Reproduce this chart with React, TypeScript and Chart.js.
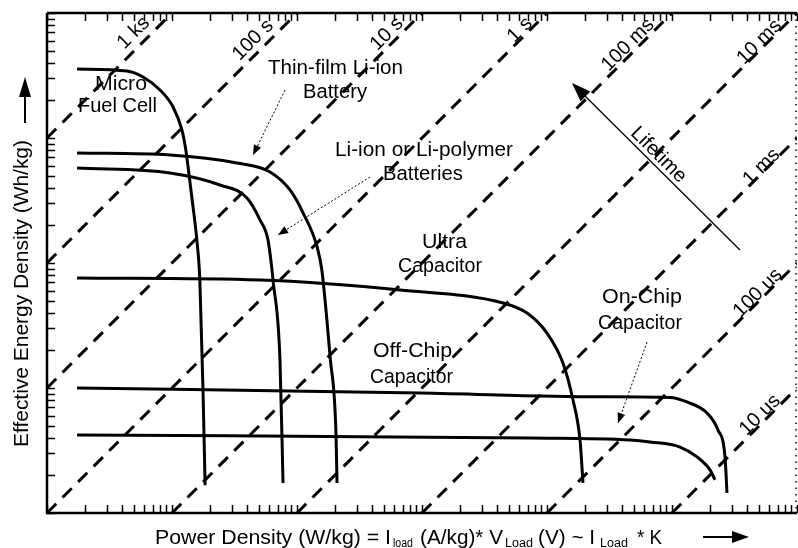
import React, { useEffect, useRef } from "react";
import { Chart, registerables } from "chart.js";

Chart.register(...registerables);

// Axis ranges (log-log, no tick labels in the original)
const powerRange = [1, 1e6];
const energyRange = [1, 1e4];

// Technology curves (Power density, Energy density)
const microFuelCellPower = [1.74, 4.37, 5.86, 8.02, 10.2, 12.0, 12.9, 13.7, 14.5, 15.8, 16.7, 17.7, 18.4];
const microFuelCellEnergy = [3565, 3436, 3076, 2421, 1770, 1159, 802, 506, 319, 153, 73.1, 9.64, 1.67];

const thinFilmPower = [1.74, 9.64, 33.1, 60.8, 87.9, 112, 145, 158, 184, 205, 209];
const thinFilmEnergy = [759, 731, 631, 535, 384, 251, 134, 87.9, 17.7, 4.37, 1.74];

const liIonPower = [1.74, 9.64, 24.2, 39.8, 50.6, 58.6, 63.1, 64.3, 73.1, 77.3];
const liIonEnergy = [575, 525, 421, 331, 221, 153, 87.9, 73.1, 16.7, 1.74];

const ultraCapPower = [1.74, 50.6, 667, 4446, 6918, 10000, 13430, 16140, 18370, 19410];
const ultraCapEnergy = [75.9, 73.1, 60.8, 47.9, 39.8, 27.5, 15.8, 8.02, 3.84, 1.74];

const offChipPower = [1.74, 964, 26550, 96380, 131800, 190500, 233300, 265500, 275400];
const offChipEnergy = [10.0, 9.12, 8.5, 8.4, 7.73, 6.31, 4.61, 2.81, 1.45];

const onChipPower = [1.74, 7311, 46130, 66680, 115900, 158500, 201400, 220800];
const onChipEnergy = [4.21, 3.98, 3.84, 3.7, 3.37, 2.81, 2.21, 1.84];

// Constant-lifetime lines (E = P * t)
const lifetimeSeconds = [1000, 100, 10, 1, 0.1, 0.01, 0.001, 0.0001, 0.00001];
const lifetimeLabels = ["1 ks", "100 s", "10 s", "1 s", "100 ms", "10 ms", "1 ms", "100 us", "10 us"];

// Lifetime arrow (tail -> tip)
const lifetimeArrowPower = [349900, 15850];
const lifetimeArrowEnergy = [127, 2754];

// Label pointer arrows (from -> tip)
const thinFilmPointerPower = [80.2, 44.5];
const thinFilmPointerEnergy = [2421, 731];
const liIonPointerPower = [383.7, 70.5];
const liIonPointerEnergy = [487.5, 167.5];
const onChipPointerPower = [63100, 36980];
const onChipPointerEnergy = [23.3, 5.25];

const FONT = '"Liberation Sans", Arial, Helvetica, sans-serif';

function toPoints(xs: number[], ys: number[]) {
  return xs.map((x, i) => ({ x, y: ys[i] }));
}

function fitText(ctx: CanvasRenderingContext2D, text: string, x1: number, x2: number, y: number, size: number) {
  ctx.font = `${size}px ${FONT}`;
  const w = ctx.measureText(text).width;
  ctx.save();
  ctx.translate(x1, y);
  ctx.scale((x2 - x1) / w, 1);
  ctx.textAlign = "left";
  ctx.textBaseline = "alphabetic";
  ctx.fillText(text, 0, 0);
  ctx.restore();
}

function arrowHead(ctx: CanvasRenderingContext2D, fx: number, fy: number, tx: number, ty: number, len: number, half: number) {
  const a = Math.atan2(ty - fy, tx - fx);
  const bx = tx - len * Math.cos(a);
  const by = ty - len * Math.sin(a);
  ctx.beginPath();
  ctx.moveTo(tx, ty);
  ctx.lineTo(bx + half * Math.sin(a), by - half * Math.cos(a));
  ctx.lineTo(bx - half * Math.sin(a), by + half * Math.cos(a));
  ctx.closePath();
  ctx.fill();
}

const decorPlugin = {
  id: "decor",
  afterDraw(chart: any) {
    const ctx: CanvasRenderingContext2D = chart.ctx;
    const xs = chart.scales.x;
    const ys = chart.scales.y;
    const { left, right, top, bottom } = chart.chartArea;
    ctx.save();
    ctx.fillStyle = "#000";
    ctx.strokeStyle = "#000";

    // Axes frame
    ctx.lineWidth = 2.5;
    ctx.beginPath();
    ctx.moveTo(left, top);
    ctx.lineTo(left, bottom);
    ctx.lineTo(right, bottom);
    ctx.moveTo(left, top);
    ctx.lineTo(right, top);
    ctx.stroke();
    ctx.save();
    ctx.lineWidth = 1.5;
    ctx.setLineDash([1.5, 5]);
    ctx.beginPath();
    ctx.moveTo(right - 1, top);
    ctx.lineTo(right - 1, bottom);
    ctx.stroke();
    ctx.restore();

    // Log ticks (inward)
    ctx.lineWidth = 1.5;
    ctx.beginPath();
    for (let n = 0; n < 7; n++) {
      for (let m = 1; m < 10; m++) {
        const v = m * Math.pow(10, n);
        if (v >= powerRange[0] && v <= powerRange[1]) {
          const px = Math.round(xs.getPixelForValue(v)) + 0.5;
          ctx.moveTo(px, bottom);
          ctx.lineTo(px, bottom - 8);
          ctx.moveTo(px, top);
          ctx.lineTo(px, top + 8);
        }
        if (v >= energyRange[0] && v <= energyRange[1]) {
          const py = Math.round(ys.getPixelForValue(v)) + 0.5;
          ctx.moveTo(left, py);
          ctx.lineTo(left + 8, py);
        }
      }
    }
    ctx.stroke();

    // Lifetime line labels
    const labelCY = [33, 40, 34, 30, 45, 42, 167, 293, 415];
    const labelOff = [13, 12, 10, 7, 8.5, 6, 4.5, 6.4, 7];
    ctx.font = `20px ${FONT}`;
    ctx.textAlign = "center";
    ctx.textBaseline = "middle";
    lifetimeSeconds.forEach((t, i) => {
      const off = labelOff[i];
      const lineY = labelCY[i] + 0.7071 * off;
      const e = ys.getValueForPixel(lineY);
      const p = e / t;
      const lineX = xs.getPixelForValue(p);
      const cx = lineX - 0.7071 * off;
      ctx.save();
      ctx.translate(cx, labelCY[i]);
      ctx.rotate(-Math.PI / 4);
      ctx.fillText(lifetimeLabels[i], 0, 0);
      ctx.restore();
    });

    // Lifetime arrow
    const ax0 = xs.getPixelForValue(lifetimeArrowPower[0]);
    const ay0 = ys.getPixelForValue(lifetimeArrowEnergy[0]);
    const ax1 = xs.getPixelForValue(lifetimeArrowPower[1]);
    const ay1 = ys.getPixelForValue(lifetimeArrowEnergy[1]);
    ctx.lineWidth = 1.3;
    ctx.beginPath();
    ctx.moveTo(ax0, ay0);
    ctx.lineTo(ax1 + 10, ay1 + 10);
    ctx.stroke();
    arrowHead(ctx, ax0, ay0, ax1, ay1, 19, 7);
    {
      const len = Math.hypot(ax0 - ax1, ay0 - ay1);
      const dx = (ax0 - ax1) / len;
      const dy = (ay0 - ay1) / len;
      const along = 112;
      const nrm = 10;
      const cx = ax1 + dx * along + dy * nrm;
      const cy = ay1 + dy * along - dx * nrm;
      ctx.save();
      ctx.translate(cx, cy);
      ctx.rotate(Math.PI / 4);
      ctx.font = `20px ${FONT}`;
      ctx.textAlign = "center";
      ctx.textBaseline = "middle";
      ctx.fillText("Lifetime", 0, 0);
      ctx.restore();
    }

    // Pointer arrows (dotted)
    const pointers = [
      [thinFilmPointerPower, thinFilmPointerEnergy],
      [liIonPointerPower, liIonPointerEnergy],
      [onChipPointerPower, onChipPointerEnergy],
    ];
    pointers.forEach(([pp, pe]) => {
      const fx = xs.getPixelForValue(pp[0]);
      const fy = ys.getPixelForValue(pe[0]);
      const tx = xs.getPixelForValue(pp[1]);
      const ty = ys.getPixelForValue(pe[1]);
      ctx.save();
      ctx.lineWidth = 1;
      ctx.setLineDash([2, 2]);
      ctx.beginPath();
      ctx.moveTo(fx, fy);
      ctx.lineTo(tx, ty);
      ctx.stroke();
      ctx.restore();
      arrowHead(ctx, fx, fy, tx, ty, 10, 4);
    });

    // Technology labels
    fitText(ctx, "Micro", 95, 147, 90, 20);
    fitText(ctx, "Fuel Cell", 78, 157, 112, 20);
    fitText(ctx, "Thin-film Li-ion", 268, 403, 74, 20);
    fitText(ctx, "Battery", 303, 367, 98, 20);
    fitText(ctx, "Li-ion or Li-polymer", 335, 513, 156, 20);
    fitText(ctx, "Batteries", 383, 463, 180, 20);
    fitText(ctx, "Ultra", 422, 467, 248, 20);
    fitText(ctx, "Capacitor", 398, 482, 272, 20);
    fitText(ctx, "Off-Chip", 373, 452, 357, 20);
    fitText(ctx, "Capacitor", 370, 453, 383, 20);
    fitText(ctx, "On-Chip", 602, 682, 303, 20);
    fitText(ctx, "Capacitor", 598, 682, 329, 20);

    // X axis title
    fitText(ctx, "Power Density (W/kg) = I", 155, 391, 544, 20);
    fitText(ctx, "load", 393, 413, 547, 12);
    fitText(ctx, "(A/kg)* V", 420, 503, 544, 20);
    fitText(ctx, "Load", 505, 533, 547, 12);
    fitText(ctx, "(V) ~ I", 538, 595, 544, 20);
    fitText(ctx, "Load", 600, 628, 547, 12);
    fitText(ctx, "* K", 637, 662, 544, 20);
    ctx.lineWidth = 2;
    ctx.beginPath();
    ctx.moveTo(703, 537);
    ctx.lineTo(735, 537);
    ctx.stroke();
    arrowHead(ctx, 703, 537, 749, 537, 17, 6);

    // Y axis title
    ctx.save();
    ctx.translate(28, 447);
    ctx.rotate(-Math.PI / 2);
    fitText(ctx, "Effective Energy Density (Wh/kg)", 0, 307, 0, 20);
    ctx.restore();
    ctx.beginPath();
    ctx.moveTo(25, 123);
    ctx.lineTo(25, 90);
    ctx.stroke();
    arrowHead(ctx, 25, 123, 25, 77, 20, 6);

    ctx.restore();
  },
};

export default function App() {
  const ref = useRef<HTMLCanvasElement>(null);

  useEffect(() => {
    document.body.style.margin = "0";
    const curve = (xs: number[], ys: number[]) => ({
      data: toPoints(xs, ys),
      showLine: true,
      borderColor: "#000",
      borderWidth: 3,
      pointRadius: 0,
      fill: false,
      cubicInterpolationMode: "monotone" as const,
    });
    const isoLines = lifetimeSeconds.map((t) => {
      const p0 = Math.max(powerRange[0], energyRange[0] / t);
      const p1 = Math.min(powerRange[1], energyRange[1] / t);
      return {
        data: [
          { x: p0, y: p0 * t },
          { x: p1, y: p1 * t },
        ],
        showLine: true,
        borderColor: "#000",
        borderWidth: 3,
        borderDash: [13, 9],
        pointRadius: 0,
        fill: false,
        tension: 0,
      };
    });

    const chart = new Chart(ref.current as HTMLCanvasElement, {
      type: "scatter",
      data: {
        datasets: [
          ...isoLines,
          curve(microFuelCellPower, microFuelCellEnergy),
          curve(thinFilmPower, thinFilmEnergy),
          curve(liIonPower, liIonEnergy),
          curve(ultraCapPower, ultraCapEnergy),
          curve(offChipPower, offChipEnergy),
          curve(onChipPower, onChipEnergy),
        ] as any,
      },
      options: {
        responsive: false,
        animation: false,
        devicePixelRatio: 1,
        layout: { padding: { left: 47, right: 1, top: 13, bottom: 35 } },
        plugins: { legend: { display: false }, tooltip: { enabled: false } },
        scales: {
          x: { type: "logarithmic", min: powerRange[0], max: powerRange[1], display: false },
          y: { type: "logarithmic", min: energyRange[0], max: energyRange[1], display: false },
        },
      },
      plugins: [decorPlugin],
    });
    return () => chart.destroy();
  }, []);

  return (
    <div style={{ width: 798, height: 548, background: "#fff" }}>
      <canvas ref={ref} width={798} height={548} style={{ display: "block", width: 798, height: 548 }} />
    </div>
  );
}
